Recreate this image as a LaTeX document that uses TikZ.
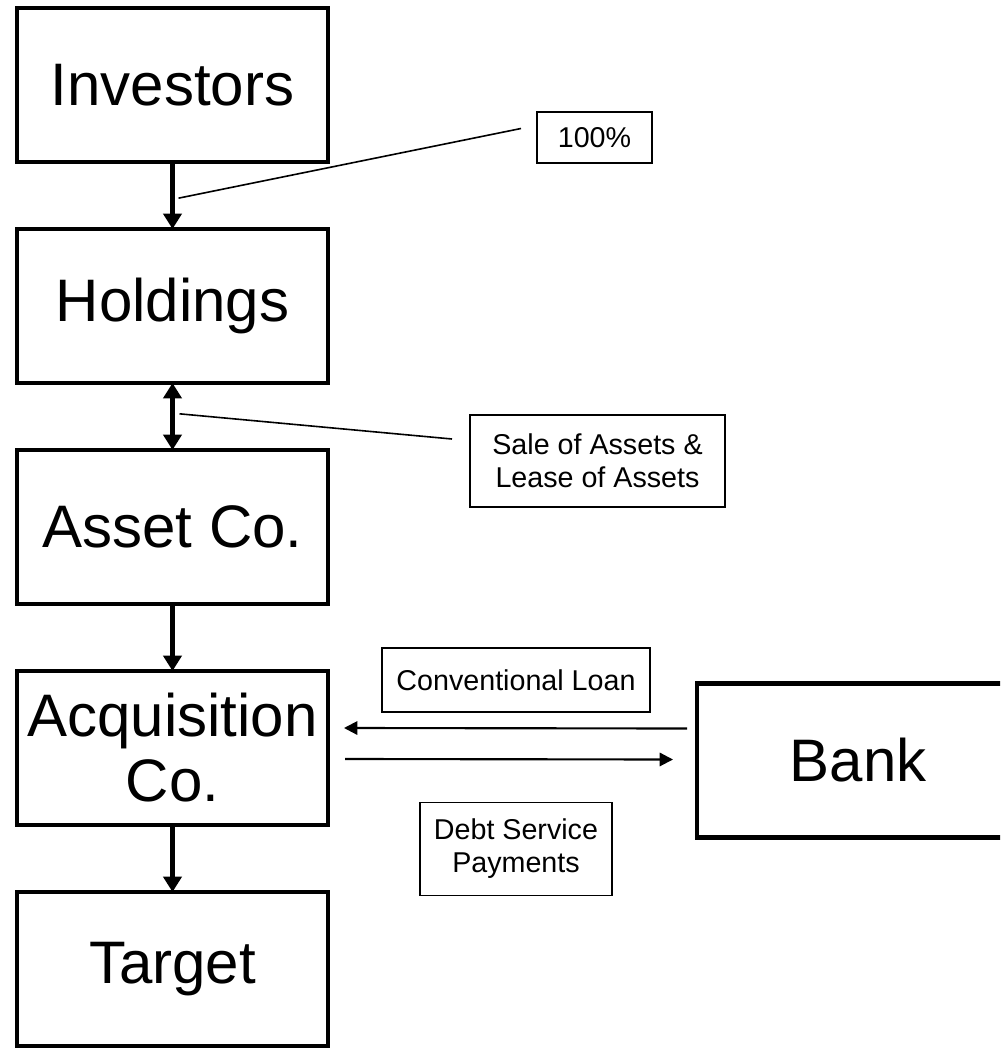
\documentclass[tikz,border=0pt]{standalone}
\usepackage{fontspec}
\setmainfont{Liberation Sans}
\usetikzlibrary{arrows.meta,positioning,calc}

\begin{document}
\begin{tikzpicture}[x=0.75pt,y=-0.75pt,
    entity/.style={draw, line width=3.4pt, rectangle, outer sep=0pt, inner sep=0pt,
      minimum width=233.25pt, minimum height=115.5pt, align=center,
      font=\fontsize{45}{48.75}\selectfont},
    tag/.style={draw, line width=1.1pt, rectangle, outer sep=0pt, inner sep=0pt,
      align=center, font=\fontsize{21.5}{24.75}\selectfont},
    own/.style={line width=3.8pt, -{Triangle[length=11.5pt,width=13.5pt]}},
    twoway/.style={line width=3.8pt, {Triangle[length=11.5pt,width=13.5pt]}-{Triangle[length=11.5pt,width=13.5pt]}},
    cash/.style={line width=1.6pt, -{Triangle[length=10pt,width=10pt]}},
    callout/.style={line width=1.2pt}]
        \useasboundingbox (0,0) rectangle (1000,1048);
        \clip (0,0) rectangle (1000,1048);
        % ownership chain
        \node[entity] (inv) at (172.5,85) {Investors};
        \node[entity, below=50.25pt of inv] (hold) {Holdings};
        \node[entity, below=50.25pt of hold] (asset) {Asset Co.};
        \node[entity, below=50.25pt of asset] (acq) {Acquisition\\Co.};
        \node[entity, below=50.25pt of acq] (tgt) {Target};
        \node[entity, minimum width=241.5pt] (bank) at (858,760.5) {Bank};
        % labels
        \node[tag, minimum width=86.25pt, minimum height=38.25pt] (pct) at (594.5,137.5) {100\%};
        \node[tag, minimum width=191.25pt, minimum height=69pt] (sale) at (597.5,461) {Sale of Assets \&\\Lease of Assets};
        \node[tag, minimum width=201pt, minimum height=48pt] (loan) at (516,680) {Conventional Loan};
        \node[tag, minimum width=144pt, minimum height=69.75pt] (debt) at (516,849) {Debt Service\\Payments};
        % arrows
        \draw[own] (inv) -- (hold);
        \draw[twoway] (hold) -- (asset);
        \draw[own] (asset) -- (acq);
        \draw[own] (acq) -- (tgt);
        \draw[cash] ($(bank.west)+(-10,-32)$) -- ($(acq.east)+(16,-20)$);
        \draw[cash] ($(acq.east)+(17,11)$) -- ($(bank.west)+(-24,-1)$);
        % callouts
        \draw[callout] ($(inv.south)!0.54!(hold.north)+(6,0)$) -- ($(pct.west)+(-16,-9)$);
        \draw[callout] ($(hold.south)!0.46!(asset.north)+(7,0)$) -- ($(sale.west)+(-18,-22)$);
      \end{tikzpicture}
\end{document}
